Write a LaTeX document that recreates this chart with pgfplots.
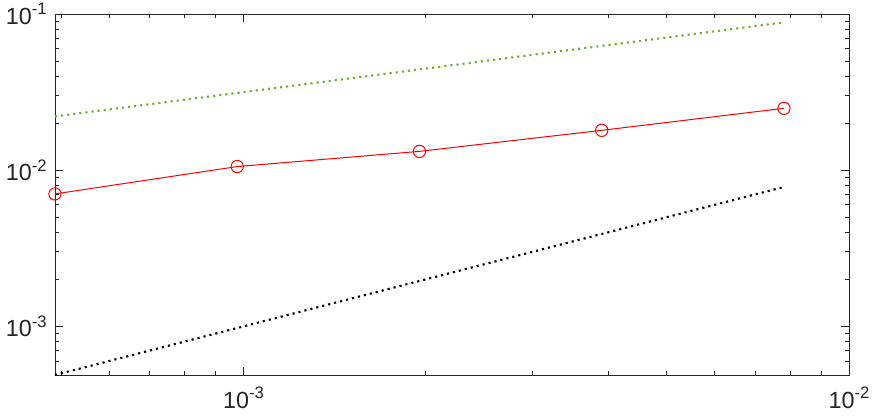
\documentclass[border=0pt]{standalone}
\usepackage{pgfplots}
\pgfplotsset{compat=1.18}
\usepackage{fontspec}
\setmainfont{Liberation Sans}
\definecolor{axgray}{RGB}{38,38,38}
\definecolor{mgreen}{rgb}{0.466,0.674,0.188}
\newcommand{\tl}[1]{10\raisebox{7pt}{\fontsize{12.5}{13}\selectfont #1}}
\begin{document}
\fontsize{17.5}{20}\selectfont
\begin{tikzpicture}
\useasboundingbox (-41.25pt,-32.25pt) rectangle (612.75pt,281.25pt);
\begin{axis}[
  scale only axis,
  width=595.5pt, height=270.75pt,
  xmode=log, ymode=log,
  xmin=4.8828125e-4, xmax=1e-2,
  ymin=4.8828125e-4, ymax=0.1,
  axis line style={axgray, line width=0.6pt},
  tick style={axgray, line width=0.6pt},
  tick align=inside,
  major tick length=6pt,
  minor tick length=3pt,
  xtick={1e-3,1e-2},
  xticklabels={\tl{-3},\tl{-2}},
  ytick={1e-3,1e-2,1e-1},
  yticklabels={\tl{-3},\tl{-2},\tl{-1}},
  minor xtick={5e-4,6e-4,7e-4,8e-4,9e-4,2e-3,3e-3,4e-3,5e-3,6e-3,7e-3,8e-3,9e-3},
  minor ytick={6e-4,7e-4,8e-4,9e-4,2e-3,3e-3,4e-3,5e-3,6e-3,7e-3,8e-3,9e-3,2e-2,3e-2,4e-2,5e-2,6e-2,7e-2,8e-2,9e-2},
  ticklabel style={text=axgray, font=\fontsize{17.5}{20}\selectfont, inner sep=1pt},
  xticklabel style={yshift=-8pt},
  yticklabel style={xshift=-5pt},
  clip=false,
]
\addplot[mgreen, line width=1.6pt, dash pattern=on 1.6pt off 3pt] coordinates {
 (4.8828125e-4,0.0220971) (9.765625e-4,0.03125) (1.953125e-3,0.0441942) (3.90625e-3,0.0625) (7.8125e-3,0.0883883)};
\addplot[black, line width=1.6pt, dash pattern=on 1.6pt off 3pt] coordinates {
 (4.8828125e-4,4.8828125e-4) (9.765625e-4,9.765625e-4) (1.953125e-3,1.953125e-3) (3.90625e-3,3.90625e-3) (7.8125e-3,7.8125e-3)};
\addplot[red, line width=0.75pt, mark=o, mark size=4.6pt, mark options={line width=0.75pt}] coordinates {
 (4.8828125e-4,7.05e-3) (9.765625e-4,1.055e-2) (1.953125e-3,1.32e-2) (3.90625e-3,1.80e-2) (7.8125e-3,2.49e-2)};
\end{axis}
\end{tikzpicture}
\end{document}
